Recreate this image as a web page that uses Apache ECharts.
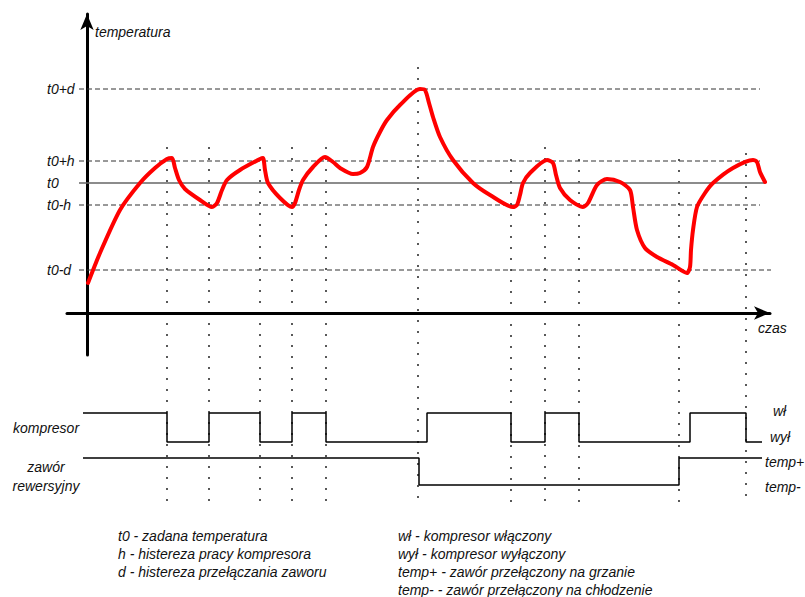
<!DOCTYPE html>
<html>
<head>
<meta charset="utf-8">
<script src="https://cdn.jsdelivr.net/npm/echarts@6/dist/echarts.min.js"></script>
<style>
html, body { margin: 0; padding: 0; background: #fff; }
#chart { width: 805px; height: 597px; }
</style>
</head>
<body>
<div id="chart"></div>
<script>
// temperature levels (units above the time axis)
const levelNames = ['t0-d', 't0-h', 't0', 't0+h', 't0+d']
const levelValues = [43, 108, 130, 152, 224]
const levelEnds = [685, 673, 678, 673, 673]

// temperature curve
const curveTime = [1, 13, 33, 53, 68, 80, 85, 88, 92, 98, 113, 125, 130, 135, 140, 153, 173, 176, 178, 181,
  193, 205, 208, 212, 216, 226, 238, 246, 253, 266, 273, 280, 286, 293, 300, 313, 333, 338, 342, 346,
  353, 366, 386, 403, 426, 430, 433, 436, 443, 460, 466, 469, 473, 483, 496, 501, 510, 520, 533, 543,
  546, 550, 558, 570, 586, 600, 603, 604, 606, 610, 618, 626, 646, 666, 670, 673, 678]
const curveTemp = [30, 60, 103, 130, 145, 154, 155, 145, 133, 124, 113, 106, 110, 123, 133, 143, 154, 155, 143, 130,
  115, 106, 110, 123, 133, 146, 156, 151, 145, 139, 140, 146, 166, 181, 193, 208, 224, 223, 210, 196,
  176, 153, 130, 118, 106, 108, 118, 130, 140, 153, 150, 138, 125, 113, 106, 110, 128, 134, 131, 123,
  106, 83, 65, 56, 48, 40, 46, 63, 83, 106, 120, 130, 145, 153, 151, 141, 131]

// switching moments (dotted lines)
const eventTime = [80, 122, 173, 205, 239, 331, 424, 458, 492, 592, 659]
const eventTop = [166, 166, 166, 166, 166, 246, 154, 166, 154, 154, 160]
const eventBottom = -190

// kompresor: 1 = wł, 0 = wył
const kompTime = [-4, 80, 122, 173, 205, 239, 340, 424, 458, 492, 603, 659, 675]
const kompState = [1, 0, 1, 0, 1, 0, 1, 0, 1, 0, 1, 0, 0]

// zawór rewersyjny: 1 = temp+, 0 = temp-
const valveTime = [-4, 332, 592, 675]
const valveState = [1, 0, 1, 1]

const legendLeft = ['t0 - zadana temperatura', 'h - histereza pracy kompresora', 'd - histereza przełączania zaworu']
const legendRight = ['wł - kompresor włączony', 'wył - kompresor wyłączony', 'temp+ - zawór przełączony na grzanie', 'temp- - zawór przełączony na chłodzenie']

const font = 'italic 14px "Liberation Sans", Arial, sans-serif'
const txtColor = '#111'

const myChart = echarts.init(document.getElementById('chart'), null, { renderer: 'svg' })

const levelSeries = levelValues.map((v, i) => ({
  type: 'line',
  xAxisIndex: 0,
  yAxisIndex: 0,
  data: [[-8, v], [levelEnds[i], v]],
  showSymbol: false,
  silent: true,
  clip: false,
  z: 2,
  lineStyle: levelNames[i] === 't0'
    ? { color: '#666', width: 1.5, type: 'solid' }
    : { color: '#333', width: 1, type: [5, 3] }
}))

const eventSeries = eventTime.map((t, i) => ({
  type: 'line',
  xAxisIndex: 0,
  yAxisIndex: 0,
  data: [[t, eventTop[i]], [t, eventBottom]],
  showSymbol: false,
  silent: true,
  clip: false,
  z: 1,
  lineStyle: { color: '#000', width: 1.3, type: [2, 9] }
}))

const text = (str, x, y, align) => ({
  type: 'text',
  x: x,
  y: y,
  silent: true,
  style: { text: str, font: font, fill: txtColor, align: align || 'left', verticalAlign: 'middle' }
})

const graphics = [
  text('temperatura', 95, 32),
  text('czas', 758, 328),
  text('kompresor', 46, 428, 'center'),
  text('zawór', 46, 467, 'center'),
  text('rewersyjny', 46, 486, 'center'),
  text('wł', 773, 411),
  text('wył', 770, 437),
  text('temp+', 765, 462),
  text('temp-', 765, 487)
]
legendLeft.forEach((s, i) => graphics.push(text(s, 118, 536 + i * 18)))
legendRight.forEach((s, i) => graphics.push(text(s, 398, 536 + i * 18)))

const hiddenAxis = { show: false }

myChart.setOption({
  animation: false,
  textStyle: { fontFamily: '"Liberation Sans", Arial, sans-serif' },
  grid: [
    { left: 67, right: 35, top: 14, bottom: 242, outerBoundsMode: 'none' },
    { left: 67, right: 35, top: 413, height: 29, outerBoundsMode: 'none' },
    { left: 67, right: 35, top: 458, height: 27, outerBoundsMode: 'none' }
  ],
  xAxis: [
    {
      gridIndex: 0,
      type: 'value',
      min: -20,
      max: 683,
      axisLine: {
        onZero: true,
        symbol: ['none', 'arrow'],
        symbolSize: [10, 16],
        lineStyle: { color: '#000', width: 3 }
      },
      axisTick: { show: false },
      axisLabel: { show: false },
      splitLine: { show: false }
    },
    { gridIndex: 1, type: 'value', min: -20, max: 683, ...hiddenAxis },
    { gridIndex: 2, type: 'value', min: -20, max: 683, ...hiddenAxis }
  ],
  yAxis: [
    {
      gridIndex: 0,
      type: 'value',
      min: -42,
      max: 299,
      axisLine: {
        onZero: true,
        symbol: ['none', 'arrow'],
        symbolSize: [10, 16],
        lineStyle: { color: '#000', width: 3 }
      },
      axisTick: { show: false },
      axisLabel: {
        customValues: levelValues,
        formatter: (v) => levelNames[levelValues.indexOf(v)],
        align: 'left',
        margin: 20,
        fontStyle: 'italic',
        fontSize: 14,
        color: txtColor
      },
      splitLine: { show: false }
    },
    { gridIndex: 1, type: 'value', min: 0, max: 1, ...hiddenAxis },
    { gridIndex: 2, type: 'value', min: 0, max: 1, ...hiddenAxis }
  ],
  graphic: graphics,
  series: [
    ...eventSeries,
    ...levelSeries,
    {
      name: 'temperatura',
      type: 'line',
      xAxisIndex: 0,
      yAxisIndex: 0,
      data: curveTime.map((t, i) => [t, curveTemp[i]]),
      showSymbol: false,
      smooth: 0.25,
      clip: false,
      z: 5,
      lineStyle: { color: '#ff0000', width: 4, cap: 'round', join: 'round' }
    },
    {
      name: 'kompresor',
      type: 'line',
      xAxisIndex: 1,
      yAxisIndex: 1,
      step: 'end',
      data: kompTime.map((t, i) => [t, kompState[i]]),
      showSymbol: false,
      clip: false,
      lineStyle: { color: '#000', width: 1.5 }
    },
    {
      name: 'zawór',
      type: 'line',
      xAxisIndex: 2,
      yAxisIndex: 2,
      step: 'end',
      data: valveTime.map((t, i) => [t, valveState[i]]),
      showSymbol: false,
      clip: false,
      lineStyle: { color: '#000', width: 1.5 }
    }
  ]
})
</script>
</body>
</html>
